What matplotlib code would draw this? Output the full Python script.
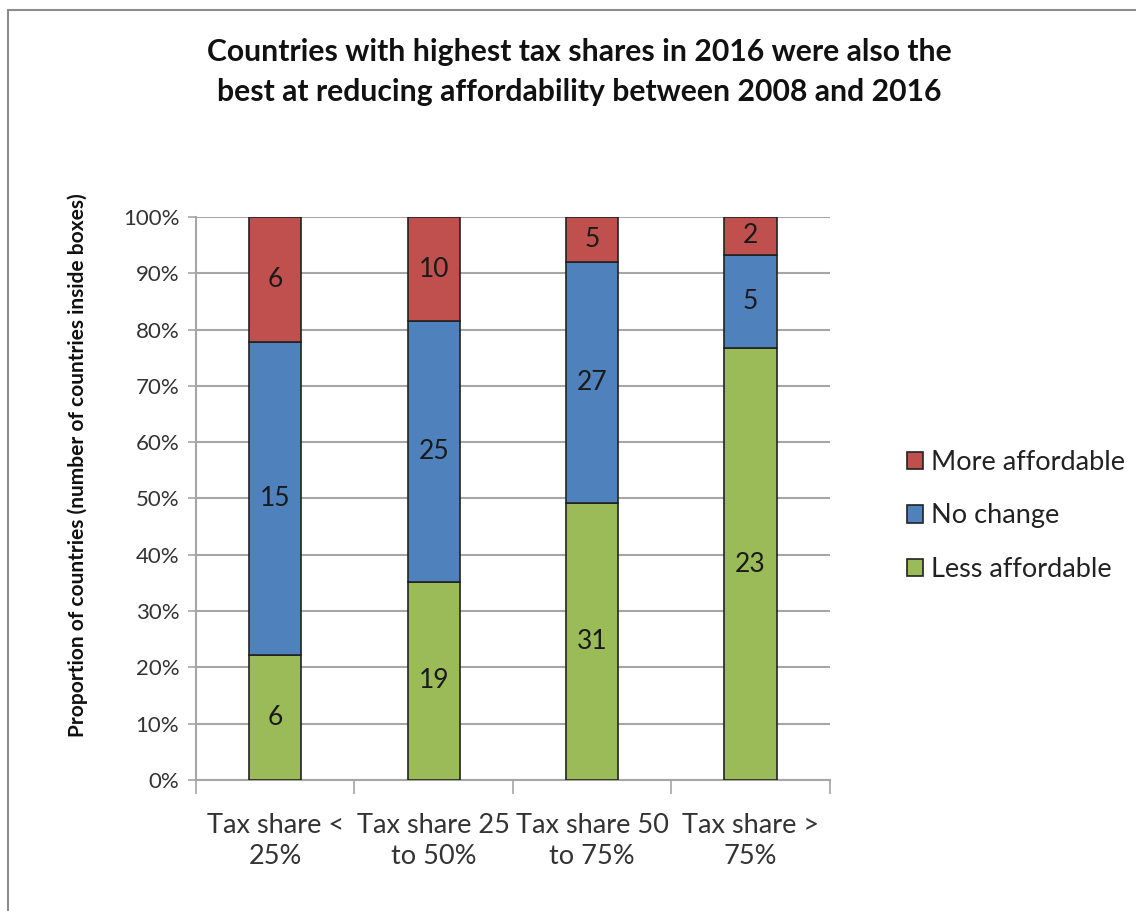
import numpy as np
import matplotlib.pyplot as plt
from matplotlib.patches import Rectangle

plt.rcParams['font.family'] = ['Lato', 'DejaVu Sans']

categories = ['Tax share <\n25%', 'Tax share 25\nto 50%', 'Tax share 50\nto 75%', 'Tax share >\n75%']
less_affordable = [6, 19, 31, 23]
no_change = [15, 25, 27, 5]
more_affordable = [6, 10, 5, 2]

series = [
    ('Less affordable', less_affordable, '#9BBB59'),
    ('No change', no_change, '#4F81BD'),
    ('More affordable', more_affordable, '#C0504D'),
]

totals = np.array(less_affordable) + np.array(no_change) + np.array(more_affordable)

fig = plt.figure(figsize=(11.36, 9.11), dpi=100)
ax = fig.add_axes([0.1725, 0.1438, 0.558, 0.618])

# outer chart frame
fig.patches.append(Rectangle((0.007, -0.1), 1.1, 1.089, transform=fig.transFigure,
                             fill=False, edgecolor='#8c8c8c', linewidth=1.5))

x = np.arange(len(categories))
bottom = np.zeros(len(categories))
handles = {}
for name, vals, color in series:
    share = np.array(vals) / totals
    bars = ax.bar(x, share, width=0.33, bottom=bottom, color=color,
                  edgecolor='#222222', linewidth=1.2, label=name, zorder=3)
    handles[name] = bars
    for xi, b, s, v in zip(x, bottom, share, vals):
        ax.text(xi, b + s / 2, str(v), ha='center', va='center',
                fontsize=19, color='#1a1a1a', zorder=4)
    bottom += share

ax.set_xlim(-0.5, len(categories) - 0.5)
ax.set_ylim(0, 1)
ax.set_yticks(np.arange(0, 1.01, 0.1))
ax.set_yticklabels([f'{int(round(t * 100))}%' for t in np.arange(0, 1.01, 0.1)],
                   fontsize=16, color='#333333')
ax.yaxis.grid(True, color='#a6a6a6', linewidth=1.5, zorder=0)
ax.set_axisbelow(True)

ax.set_xticks(np.arange(-0.5, len(categories), 1.0))
ax.set_xticklabels([])
ax.set_xticks(x, minor=True)
ax.set_xticklabels(categories, minor=True, fontsize=19.5, color='#333333',
                   linespacing=1.3)
ax.tick_params(axis='x', which='major', length=10, width=1.2, color='#a6a6a6', direction='out')
ax.tick_params(axis='x', which='minor', length=0, pad=24)
ax.tick_params(axis='y', length=6, width=1.2, color='#a6a6a6', pad=6)

for side in ['top', 'right']:
    ax.spines[side].set_visible(False)
for side in ['left', 'bottom']:
    ax.spines[side].set_color('#a6a6a6')
    ax.spines[side].set_linewidth(1.5)

ax.set_ylabel('Proportion of countries (number of countries inside boxes)',
              fontsize=15, fontweight='bold', color='#111111')
ax.yaxis.set_label_coords(-0.17, 0.56)

fig.text(0.51, 0.921, 'Countries with highest tax shares in 2016 were also the\n'
         'best at reducing affordability between 2008 and 2016',
         ha='center', va='center', fontsize=21.7, fontweight='bold',
         color='#111111', linespacing=1.5)

order = ['More affordable', 'No change', 'Less affordable']
leg = ax.legend([handles[n] for n in order], order, loc='center left',
                bbox_to_anchor=(1.1, 0.469), frameon=False, fontsize=19.5,
                handlelength=0.6, handleheight=0.6, handletextpad=0.3,
                labelspacing=1.05, labelcolor='#222222', borderpad=0)

fig.savefig('out.png', dpi=100)
